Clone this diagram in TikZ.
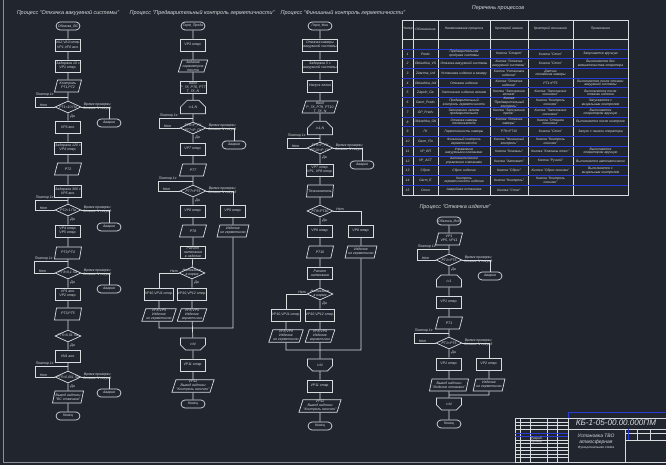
\documentclass[tikz,border=0pt]{standalone}
\usepackage{fontspec}
\setmainfont{Liberation Sans}
\usetikzlibrary{shapes.geometric,shapes.misc,calc}
\definecolor{bg}{HTML}{21262E}
\definecolor{ink}{HTML}{D9DCDF}
\definecolor{frame}{HTML}{8A9099}
\definecolor{cadblue}{HTML}{2A3BD6}
\tikzset{
  lbl/.style={font=\fontsize{2}{2.3}\selectfont\itshape,text=ink,inner sep=0.3pt,align=center},
  blk/.style={lbl,draw=ink,line width=0.4pt},
  proc/.style={blk,rectangle,minimum width=0.5cm,minimum height=0.24cm},
  term/.style={blk,rounded rectangle,minimum width=0.5cm,minimum height=0.16cm},
  io/.style={blk,trapezium,trapezium left angle=72,trapezium right angle=108,
    trapezium stretches=true,minimum width=0.54cm,minimum height=0.24cm},
  dec/.style={draw=ink,line width=0.4pt,diamond,minimum width=0.52cm,
    minimum height=0.24cm,inner sep=0pt,label={[lbl]center:{#1}}},
  lpbeg/.style={blk,chamfered rectangle,chamfered rectangle xsep=1.6pt,
    chamfered rectangle corners={north west,north east},minimum width=0.5cm,minimum height=0.24cm},
  lpend/.style={blk,chamfered rectangle,chamfered rectangle xsep=1.6pt,
    chamfered rectangle corners={south west,south east},minimum width=0.5cm,minimum height=0.24cm},
  ttl/.style={font=\fontsize{3.1}{3.6}\selectfont\itshape,text=ink},
  cell/.style={font=\fontsize{1.9}{2.1}\selectfont\itshape,text=ink,inner sep=0pt,align=center},
  ln/.style={draw=ink,line width=0.4pt},
  rowln/.style={draw=cadblue,line width=0.5pt},
}
\begin{document}
\begin{tikzpicture}[x=0.02cm,y=-0.02cm]
  \fill[bg] (0,0) rectangle (666,465);
  \useasboundingbox (0,0) rectangle (666,465);
  \draw[frame,line width=0.5pt] (3,0) -- (3,462) -- (666,462);

  % titles
  \node[ttl] (t1) at (68,13) {Процесс "Откачка вакуумной системы"};
  \node[ttl] (t2) at (202,13) {Процесс "Предварительный контроль герметичности"};
  \node[ttl] (t3) at (343,13) {Процесс "Финишный контроль герметичности"};
  \node[ttl] (t4) at (455,207) {Процесс "Откачка изделия"};
  \node[ttl] (t5) at (498,8) {Перечень процессов};

  % column 1
  \node[term] (a0) at (68,26) {Обкачка\_ВС};
  \node[proc] (a1) at (68,45) {VA2,VA3 откр.\\VP1,VP2 вкл.};
  \node[proc] (a2) at (68,66) {Задержка 10 с\\VP1 откр.};
  \node[io] (a3) at (68,86) {Контроль\\PT1,PT2};
  \node[dec={PT1<10 Па}] (a4) at (68,107) {};
  \node[term] (a4x) at (109,123) {Авария};
  \node[proc] (a5) at (68,127) {VP3 вкл.};
  \node[proc] (a6) at (68,148) {Задержка 120 с\\VP4 откр.};
  \node[io] (a7) at (68,169) {PT2};
  \node[proc] (a8) at (68,191) {Задержка 300 с\\VP5 вкл.};
  \node[dec={PT2<1 Па}] (a9) at (68,210) {};
  \node[term] (a9x) at (109,227) {Авария};
  \node[proc] (a10) at (68,231) {VP4 откр.\\VP5 откр.};
  \node[io] (a11) at (68,253) {PT3,PT4};
  \node[dec={PT3<0,1 Па}] (a12) at (68,273) {};
  \node[term] (a12x) at (109,289) {Авария};
  \node[proc] (a13) at (68,294) {VP1 вкл.\\VP2 откр.};
  \node[io] (a14) at (68,314) {PT3,PT5};
  \node[dec={PT5<0,01 Па}] (a15) at (68,336) {};
  \node[proc] (a16) at (68,356) {VN1 вкл.};
  \node[dec={PT5<0,001 Па}] (a17) at (68,377) {};
  \node[term] (a17x) at (109,393) {Авария};
  \node[io] (a18) at (68,397) {Вывод надписи\\"ВС откачана"};
  \node[term] (a19) at (68,416) {Конец};
  \coordinate (a4k) at (35,97);  \coordinate (a4j) at (68,97);
  \coordinate (a9k) at (35,200); \coordinate (a9j) at (68,200);
  \coordinate (a12k) at (34,261); \coordinate (a12j) at (68,261);
  \coordinate (a17k) at (35,366); \coordinate (a17j) at (68,366);
  \draw[ln] (a0) -- (a1) -- (a2) -- (a3) -- (a4) -- (a5) -- (a6) -- (a7) -- (a8) -- (a9) -- (a10)
    -- (a11) -- (a12) -- (a13) -- (a14) -- (a15) -- (a16) -- (a17) -- (a18) -- (a19);
  \foreach \d in {a4,a9,a12,a17}{
    \draw[ln] (\d.west) -| (\d k) -- (\d j);
    \draw[ln] (\d.east) -| (\d x);
    \node[lbl,anchor=south west] at (\d k) {Повтор 1х};
    \node[lbl,anchor=south west] at ($(\d.west -| \d k)+(4,0)$) {Нет};
    \node[lbl,anchor=west] at ($(\d.east)+(1,0)$) {Время проверки\\больше N секунд};
  }
  \foreach \d in {a4,a9,a12,a15,a17}
    \node[lbl,anchor=west] at ($(\d.south)+(1.5,3)$) {Да};

  % column 2
  \node[term] (b0) at (193,26) {Герм\_Предв};
  \node[proc] (b1) at (193,45) {VP3 откр.};
  \node[io] (b2) at (193,66) {Задание\\параметров\\теста};
  \node[proc] (b3) at (193,87) {Ввод\\P\_ГК, PT6, PT7\\T\_ГК, N};
  \node[lpbeg] (b4) at (193,107) {i=1,N};
  \node[dec={PT6<P\_ГК\\PT7<P\_ГК}] (b5) at (193,128) {};
  \node[term] (b5x) at (234,145) {Авария};
  \node[proc] (b6) at (193,149) {VP7 откр.};
  \node[io] (b7) at (193,170) {PT7};
  \node[dec={PT7<PT6}] (b8) at (193,191) {};
  \node[proc] (b9) at (193,211) {VP8 откр.};
  \node[proc] (b9r) at (233,211) {VP9 откр.};
  \node[io] (b10) at (193,231) {PT8};
  \node[io] (b10r) at (233,231) {Изделие\\не герметично};
  \node[proc] (b11) at (193,252) {Расчет\\натекания\\в изделие};
  \node[dec={Натекание\\в норме}] (b12) at (192,273) {};
  \node[proc] (b13l) at (159,294) {VP10,VP11 откр.};
  \node[proc] (b13) at (192,294) {VP10,VP12 откр.};
  \node[io] (b14l) at (159,315) {VP8,VP9\\Изделие\\не герметично};
  \node[io] (b14) at (192,315) {VP8,VP9\\Изделие\\герметично};
  \coordinate (bm) at (192,328);
  \node[lpend] (b15) at (193,344) {i=N};
  \node[proc] (b16) at (193,365) {VP11 откр.};
  \node[io] (b17) at (193,386) {VP12\\Вывод надписи\\"Контроль окончен"};
  \node[term] (b18) at (193,404) {Конец};
  \coordinate (b5k) at (159,118); \coordinate (b5j) at (193,118);
  \coordinate (b8k) at (158,181); \coordinate (b8j) at (193,181);
  \draw[ln] (b0) -- (b1) -- (b2) -- (b3) -- (b4) -- (b5) -- (b6) -- (b7) -- (b8) -- (b9) -- (b10)
    -- (b11) -- (b12) -- (b13) -- (b14) -- (b15) -- (b16) -- (b17) -- (b18);
  \draw[ln] (b5.east) -| (b5x);
  \draw[ln] (b8.east) -| (b9r); \draw[ln] (b9r) -- (b10r) |- (bm);
  \draw[ln] (b12.west) -| (b13l); \draw[ln] (b13l) -- (b14l) |- (bm);
  \foreach \d in {b5,b8}{
    \draw[ln] (\d.west) -| (\d k) -- (\d j);
    \node[lbl,anchor=south west] at (\d k) {Повтор 1х};
    \node[lbl,anchor=south west] at ($(\d.west -| \d k)+(4,0)$) {Нет};
    \node[lbl,anchor=west] at ($(\d.east)+(1,0)$) {Время проверки\\больше N секунд};
  }
  \node[lbl,anchor=south] at (174,273) {Нет};
  \foreach \d in {b5,b8,b12}
    \node[lbl,anchor=west] at ($(\d.south)+(1.5,3)$) {Да};

  % column 3
  \node[term] (c0) at (320,26) {Герм\_Фин};
  \node[proc] (c1) at (320,45) {Откачка камеры\\вакуумной системы};
  \node[proc] (c2) at (320,66) {Задержка 5 с\\вакуумной системы};
  \node[proc] (c3) at (320,86) {Напуск гелия};
  \node[io] (c4) at (320,107) {Ввод\\P\_ГК, PT9, PT10\\T\_ГК, N};
  \node[lpbeg] (c5) at (320,128) {i=1,N};
  \node[dec={PT9<P\_ГК\\PT10<P\_ГК}] (c6) at (320,148) {};
  \node[term] (c6x) at (362,165) {Авария};
  \node[proc] (c7) at (320,170) {VP7 откр.\\VP1, VP8 откр.};
  \node[io] (c8) at (320,191) {Течеискатель};
  \node[dec={PT9<PT10}] (c9) at (320,211) {};
  \node[proc] (c10) at (320,231) {VP9 откр.};
  \node[proc] (c10r) at (361,231) {VP8 откр.};
  \node[io] (c11) at (320,252) {PT10};
  \node[io] (c11r) at (361,252) {Изделие\\не герметично};
  \node[proc] (c12) at (320,273) {Расчет\\натекания};
  \node[dec={Натекание\\в норме}] (c13) at (320,294) {};
  \node[proc] (c14l) at (286,315) {VP10,VP11 откр.};
  \node[proc] (c14) at (320,315) {VP10,VP12 откр.};
  \node[io] (c15l) at (286,336) {VP8,VP9\\Изделие\\не герметично};
  \node[io] (c15) at (320,336) {VP8,VP9\\Изделие\\герметично};
  \coordinate (cm) at (320,350);
  \node[lpend] (c16) at (320,365) {i=N};
  \node[proc] (c17) at (320,386) {VP11 откр.};
  \node[io] (c18) at (320,406) {VP12\\Вывод надписи\\"Контроль окончен"};
  \node[term] (c19) at (320,426) {Конец};
  \coordinate (c6k) at (287,138); \coordinate (c6j) at (320,138);
  \draw[ln] (c0) -- (c1) -- (c2) -- (c3) -- (c4) -- (c5) -- (c6) -- (c7) -- (c8) -- (c9) -- (c10)
    -- (c11) -- (c12) -- (c13) -- (c14) -- (c15) -- (c16) -- (c17) -- (c18) -- (c19);
  \draw[ln] (c6.east) -| (c6x);
  \draw[ln] (c9.east) -| (c10r); \draw[ln] (c10r) -- (c11r) |- (cm);
  \draw[ln] (c13.west) -| (c14l); \draw[ln] (c14l) -- (c15l) |- (cm);
  \draw[ln] (c6.west) -| (c6k) -- (c6j);
  \node[lbl,anchor=south west] at (c6k) {Повтор 1х};
  \node[lbl,anchor=south west] at ($(c6.west -| c6k)+(4,0)$) {Нет};
  \node[lbl,anchor=west] at ($(c6.east)+(1,0)$) {Время проверки\\больше N секунд};
  \node[lbl,anchor=south] at (340,211) {Нет};
  \node[lbl,anchor=south] at (302,294) {Нет};
  \foreach \d in {c6,c9,c13}
    \node[lbl,anchor=west] at ($(\d.south)+(1.5,3)$) {Да};

  % column 4
  \node[term] (d0) at (449,221) {Обкачка\_Изд};
  \node[io] (d1) at (449,239) {VP1\\VP5, VP11};
  \node[dec={PT1<PT5}] (d2) at (449,260) {};
  \node[term] (d2x) at (490,276) {Авария};
  \node[lpbeg] (d3) at (449,281) {i=1};
  \node[proc] (d4) at (449,302) {VP1 откр.};
  \node[io] (d5) at (449,323) {PT1};
  \node[dec={PT1<PT5}] (d6) at (449,343) {};
  \node[proc] (d7) at (449,364) {VP1 откр.};
  \node[proc] (d7r) at (489,364) {VP2 откр.};
  \node[io] (d8) at (449,385) {Вывод надписи\\"Изделие откачано"};
  \node[io] (d8r) at (489,385) {Изделие\\не герметично};
  \coordinate (dm) at (449,395);
  \node[lpend] (d9) at (449,404) {i=N};
  \node[term] (d10) at (449,424) {Конец};
  \coordinate (d2k) at (417,249); \coordinate (d2j) at (449,249);
  \coordinate (d6k) at (414,333); \coordinate (d6j) at (449,333);
  \draw[ln] (d0) -- (d1) -- (d2) -- (d3) -- (d4) -- (d5) -- (d6) -- (d7) -- (d8) -- (d9) -- (d10);
  \draw[ln] (d2.east) -| (d2x);
  \draw[ln] (d6.east) -| (d7r); \draw[ln] (d7r) -- (d8r) |- (dm);
  \foreach \d in {d2,d6}{
    \draw[ln] (\d.west) -| (\d k) -- (\d j);
    \node[lbl,anchor=south west] at (\d k) {Повтор 1х};
    \node[lbl,anchor=south west] at ($(\d.west -| \d k)+(4,0)$) {Нет};
    \node[lbl,anchor=west] at ($(\d.east)+(1,0)$) {Время проверки\\больше N секунд};
    \node[lbl,anchor=west] at ($(\d.south)+(1.5,3)$) {Да};
  }

  % table of processes
  \draw[ln] (402,20) rectangle (628,195);
  \foreach \x in {413,438,490,528,573} \draw[ln] (\x,20) -- (\x,195);
  \draw[ln] (402,39) -- (628,39);
  \foreach \i in {0,...,14} \draw[rowln] (402,{49+\i*9.73}) -- (628,{49+\i*9.73});
  \node[cell] (h1) at (407.5,29) {Номер};
  \node[cell] (h2) at (425.5,29) {Обозначение};
  \node[cell] (h3) at (464,29) {Наименование процесса};
  \node[cell] (h4) at (509,29) {Критерий начала};
  \node[cell] (h5) at (550.5,29) {Критерий окончания};
  \node[cell] (h6) at (600.5,29) {Примечание};
  \foreach \n/\ob/\nm/\kn/\ko/\pr in {
    1/Predv/Предварительная продувка системы/Кнопка "Старт"/Кнопка "Стоп"/Запускается вручную,
    2/Obkachka\_VS/Откачка вакуумной системы/Кнопка "Откачка вакуумной системы"/Кнопка "Стоп"/Выполняется без вмешательства оператора,
    3/Zaterma\_Izd/Установка изделия в камеру/Кнопка "Установка изделия"/Датчик положения камеры/{},
    4/Obkachka\_Izd/Откачка изделия/Кнопка "Откачка изделия"/PT1<PT5/Выполняется после откачки вакуумной системы,
    5/Zapoln\_Ge/Заполнение изделия гелием/Кнопка "Заполнение гелием"/Кнопка "Заполнение окончено"/Выполняется после откачки изделия,
    6/Germ\_Predv/Предварительный контроль герметичности/Кнопка "Предварительный контроль"/Кнопка "Контроль окончен"/Запускается с визуальным контролем,
    7/GP\_Predv/Заполнение гелием предварительное/Кнопка "Заполнение предв."/Кнопка "Заполнение окончено"/Выполняется оператором вручную,
    8/Obkachka\_GK/Откачка камеры течеискателя/Кнопка "Откачка камеры"/Кнопка "Откачка окончена"/Выполняется после контроля,
    9/ГК/Герметичность камеры/PT9<PT10/Кнопка "Стоп"/Запуск с панели оператора,
    10/Germ\_Fin/Финишный контроль герметичности/Кнопка "Финишный контроль"/Кнопка "Контроль окончен"/{},
    11/VP\_ВП/Управление вакуумными клапанами/Кнопка "Клапаны"/Кнопка "Клапаны откл."/Выполняется оператором вручную,
    12/VP\_ACT/Автоматическое управление клапанами/Кнопка "Автомат"/Кнопка "Ручной"/Выполняется автоматически,
    13/Сброс/Сброс изделия/Кнопка "Сброс"/Кнопка "Сброс окончен"/Выполняется с визуальным контролем,
    14/Germ\_E/Контроль герметичности изделия/Кнопка "Контроль"/Кнопка "Контроль окончен"/{},
    15/Стоп/Аварийная остановка/Кнопка "Стоп"/{}/{}}{
    \pgfmathsetmacro\yy{49+(\n-0.5)*9.73}
    \node[cell] at (407.5,\yy) {\n};
    \node[cell,text width=0.46cm] at (425.5,\yy) {\ob};
    \node[cell,text width=1.0cm] at (464,\yy) {\nm};
    \node[cell,text width=0.72cm] at (509,\yy) {\kn};
    \node[cell,text width=0.86cm] at (550.5,\yy) {\ko};
    \node[cell,text width=1.06cm] at (600.5,\yy) {\pr};
  }

  % title block
  \draw[rowln] (568,418) |- (666,412);
  \draw[ln] (515,418) rectangle (666,462);
  \draw[ln] (568,418) -- (568,462);
  \draw[ln] (568,429) -- (666,429);
  \draw[ln] (625,429) -- (625,462);
  \draw[ln] (625,433) -- (666,433);
  \draw[ln] (625,440) -- (666,440);
  \draw[ln] (637,429) -- (637,440);
  \draw[ln] (650,429) -- (650,440);
  \draw[rowln] (628,429) -- (628,440);
  \foreach \x in {520,530,547,557} \draw[ln] (\x,418) -- (\x,462);
  \foreach \y in {422,425.5,429,433,436.5,440,443.5,447,450.5,454,457.5} \draw[ln] (515,\y) -- (568,\y);
  \foreach \y in {433,436.5} \draw[rowln] (515,\y) -- (568,\y);
  \node[cell,align=left] (s1) at (537,440) {Разраб.\\Провер.};
  \node[font=\fontsize{4.6}{5}\selectfont\itshape,text=ink] (s2) at (616,423) {КБ-1-05-00.00.000ПМ};
  \node[font=\fontsize{2.8}{3.2}\selectfont\itshape,text=ink,align=center] (s3) at (596,439) {Установка ТВО\\атмосферная};
  \node[cell] (s4) at (596,448) {Функциональная схема};
\end{tikzpicture}
\end{document}
